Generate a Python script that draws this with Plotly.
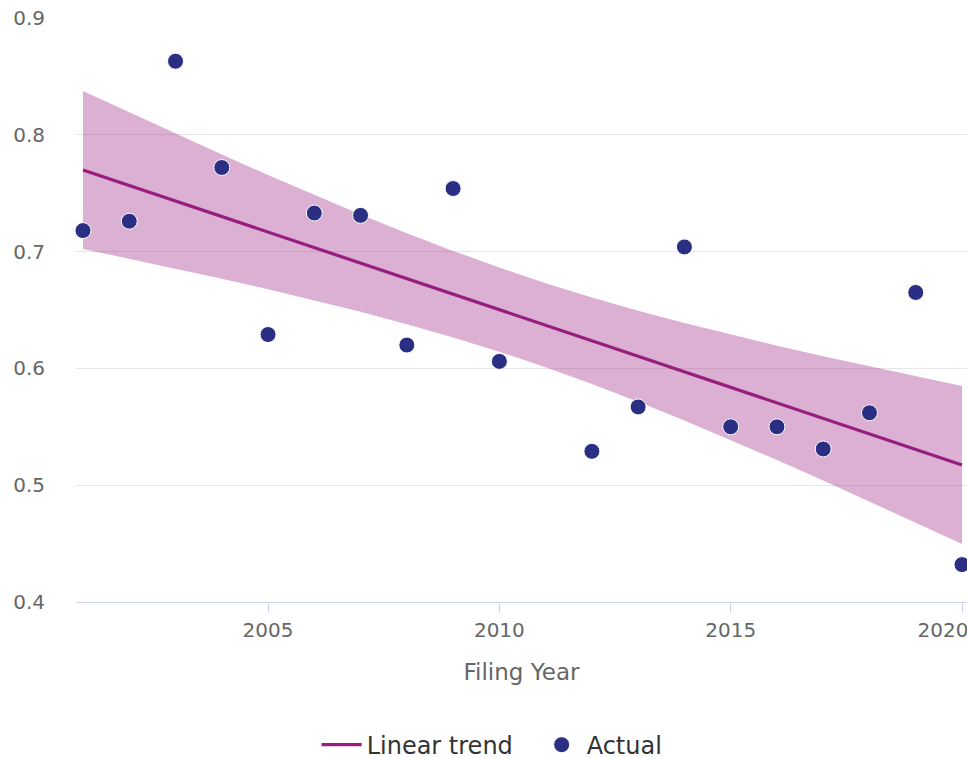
import plotly.graph_objects as go

# Filing-year observations
years = [2001, 2002, 2003, 2004, 2005, 2006, 2007, 2008, 2009, 2010,
         2012, 2013, 2014, 2015, 2016, 2017, 2018, 2019, 2020]
actual = [0.718, 0.726, 0.863, 0.772, 0.629, 0.733, 0.731, 0.620, 0.754, 0.606,
          0.529, 0.567, 0.704, 0.550, 0.550, 0.531, 0.562, 0.665, 0.432]

# Fitted linear trend and its confidence band
trend_years = list(range(2001, 2021))
trend = [0.7699, 0.7566, 0.7433, 0.7300, 0.7167, 0.7034, 0.6901, 0.6768, 0.6635, 0.6503,
         0.6370, 0.6237, 0.6104, 0.5971, 0.5838, 0.5705, 0.5572, 0.5439, 0.5306, 0.5173]
band_upper = [0.8375, 0.8192, 0.8011, 0.7832, 0.7656, 0.7484, 0.7318, 0.7158, 0.7006, 0.6863,
              0.6730, 0.6608, 0.6494, 0.6388, 0.6288, 0.6194, 0.6104, 0.6017, 0.5932, 0.5849]
band_lower = [0.7023, 0.6940, 0.6855, 0.6768, 0.6678, 0.6584, 0.6484, 0.6378, 0.6264, 0.6143,
              0.6010, 0.5866, 0.5714, 0.5554, 0.5388, 0.5216, 0.5040, 0.4861, 0.4680, 0.4497]

y_ticks = [0.4, 0.5, 0.6, 0.7, 0.8, 0.9]
x_ticks = [2005, 2010, 2015, 2020]
# the last year label is nudged left so it stays mostly inside the chart
x_tick_text = ["2005", "2010", "2015", "2020" + "\u00a0" * 6]

FONT = "DejaVu Sans"
LINE_COLOR = "#971E7E"
DOT_COLOR = "#2A2F84"
BAND_COLOR = "rgba(151,30,126,0.35)"

fig = go.Figure()

fig.add_trace(go.Scatter(
    x=trend_years + trend_years[::-1],
    y=band_upper + band_lower[::-1],
    fill="toself", fillcolor=BAND_COLOR,
    line=dict(width=0), mode="lines",
    hoverinfo="skip", showlegend=False,
))

fig.add_trace(go.Scatter(
    x=trend_years, y=trend, mode="lines", name="Linear trend",
    line=dict(color=LINE_COLOR, width=3.2),
))

fig.add_trace(go.Scatter(
    x=years, y=actual, mode="markers", name="Actual",
    marker=dict(color=DOT_COLOR, size=16, line=dict(color="white", width=1)),
    cliponaxis=False,
))

fig.update_layout(
    width=967, height=758,
    margin=dict(l=76, r=0, t=18, b=156, autoexpand=False),
    plot_bgcolor="white", paper_bgcolor="white",
    font=dict(family=FONT, color="#666666", size=20),
    showlegend=True,
    legend=dict(
        orientation="h", x=0.517, xanchor="center", y=-0.245, yanchor="middle",
        font=dict(family=FONT, size=24, color="#333333"),
        itemwidth=40, tracegroupgap=0, entrywidth=165,
    ),
    xaxis=dict(
        range=[2000.849, 2020.108],
        tickvals=x_ticks, ticktext=x_tick_text,
        showgrid=False, zeroline=False,
        showline=True, linecolor="#CCD6EB", linewidth=1,
        ticks="outside", ticklen=10, tickcolor="#CCD6EB",
        tickfont=dict(size=20, color="#666666"),
        ticklabeloverflow="allow",
        title=dict(text="Filing Year", font=dict(size=23, color="#666666"), standoff=22),
    ),
    yaxis=dict(
        range=[0.4, 0.9],
        tickvals=y_ticks, ticktext=[f"{t:.1f}" for t in y_ticks],
        showgrid=True, gridcolor="#E6E6E6", gridwidth=1,
        zeroline=False, showline=False,
        tickfont=dict(size=20, color="#666666"),
        ticklabelstandoff=30,
    ),
)

fig.write_html("out.html")
